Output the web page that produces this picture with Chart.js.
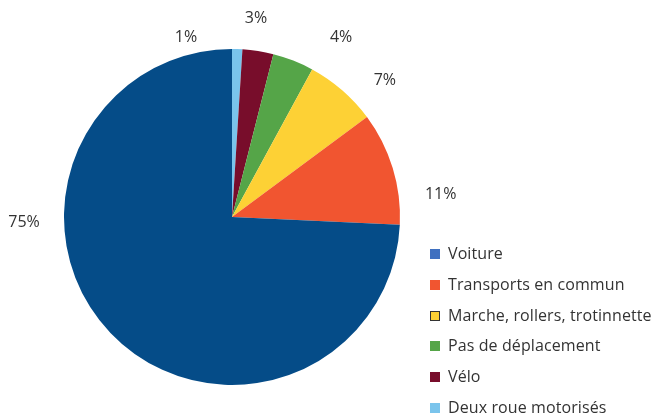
<!DOCTYPE html>
<html lang="fr">
<head>
<meta charset="UTF-8">
<title>Modes de déplacement</title>
<script src="https://cdn.jsdelivr.net/npm/chart.js@4.4.3/dist/chart.umd.min.js"></script>
<style>
  body { margin: 0; background: #fff; font-family: "Open Sans", "Noto Sans", sans-serif; }
  #wrap { position: relative; width: 658px; height: 419px; }
  #legend { position: absolute; left: 430px; top: 238px; margin: 0; padding: 0; list-style: none; }
  #legend li { height: 30.8px; line-height: 30.8px; font-size: 16px; letter-spacing: 0.1px; color: #333; white-space: nowrap; }
  #legend span { display: inline-block; width: 10px; height: 10px; margin-right: 8px; vertical-align: 0px; box-sizing: border-box; }
</style>
</head>
<body>
<div id="wrap">
  <canvas id="chart" width="658" height="419"></canvas>
  <ul id="legend"></ul>
</div>
<script>
  // legend order
  const categories = ['Voiture', 'Transports en commun', 'Marche, rollers, trotinnette', 'Pas de déplacement', 'Vélo', 'Deux roue motorisés'];
  const values = [75, 11, 7, 4, 3, 1];
  const colors = ['#054c88', '#f15530', '#fdd135', '#55a548', '#780d2b', '#7ac4ec'];
  const legendColors = ['#3f70c0', '#f15530', '#fdd135', '#55a548', '#780d2b', '#7ac4ec'];

  // label placement (angle from top in degrees, distance from centre) per category
  const labelAngle = [-91.4, 83.7, 48.2, 31.3, 6.9, -14.4];
  const labelDist = [208, 210, 205, 210, 200, 185];

  // pie drawn clockwise from the top starting with the smallest slice
  const order = [5, 4, 3, 2, 1, 0];

  const pctLabels = {
    id: 'pctLabels',
    afterDatasetsDraw(chart) {
      const ctx = chart.ctx;
      const meta = chart.getDatasetMeta(0);
      ctx.save();
      ctx.font = '16px "Open Sans", "Noto Sans", sans-serif';
      ctx.fillStyle = '#333';
      ctx.textAlign = 'center';
      ctx.textBaseline = 'middle';
      meta.data.forEach((arc, i) => {
        const k = order[i];
        const a = labelAngle[k] * Math.PI / 180;
        const x = arc.x + labelDist[k] * Math.sin(a);
        const y = arc.y - labelDist[k] * Math.cos(a);
        ctx.fillText(values[k] + '%', x, y);
      });
      ctx.restore();
    }
  };

  new Chart(document.getElementById('chart'), {
    type: 'pie',
    data: {
      labels: order.map(k => categories[k]),
      datasets: [{
        data: order.map(k => values[k]),
        backgroundColor: order.map(k => colors[k]),
        borderWidth: 0
      }]
    },
    options: {
      responsive: false,
      animation: false,
      layout: { padding: { left: 64, right: 258, top: 49, bottom: 34 } },
      plugins: {
        legend: { display: false },
        tooltip: { enabled: false }
      }
    },
    plugins: [pctLabels]
  });

  const legend = document.getElementById('legend');
  categories.forEach((c, i) => {
    const li = document.createElement('li');
    const sw = document.createElement('span');
    sw.style.background = legendColors[i];
    if (i === 2) sw.style.border = '1px solid #333';
    li.appendChild(sw);
    li.appendChild(document.createTextNode(c));
    legend.appendChild(li);
  });
</script>
</body>
</html>
